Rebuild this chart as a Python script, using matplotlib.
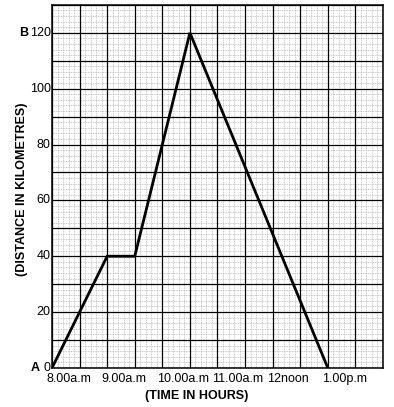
import matplotlib
matplotlib.use("Agg")
import matplotlib.pyplot as plt
import numpy as np
from matplotlib.transforms import offset_copy

plt.rcParams["font.family"] = ["Liberation Sans", "DejaVu Sans"]

# journey data: time in hours (24h clock) vs distance from A in km
time_hours = [8.0, 9.0, 9.5, 10.5, 13.0]
distance_km = [0, 40, 40, 120, 0]

x_tick_pos = [8, 9, 10, 11, 12, 13]
x_tick_labels = ["8.00a.m", "9.00a.m", "10.00a.m", "11.00a.m", "12noon", "1.00p.m"]
y_tick_pos = [0, 20, 40, 60, 80, 100, 120]
y_tick_labels = ["0", "20", "40", "60", "80", "100", "120"]

fig = plt.figure(figsize=(3.94, 4.07), dpi=100)
ax = fig.add_axes([0.132, 0.096, 0.84, 0.892])

ax.set_xlim(8, 14)
ax.set_ylim(0, 130)

# graph paper: fine grid then heavy grid
for xv in np.arange(8, 14.001, 0.1):
    ax.axvline(xv, color="#a8a8a8", lw=0.45, ls=(0, (1.5, 1.2)), zorder=1)
for yv in np.arange(0, 130.001, 2):
    ax.axhline(yv, color="#a8a8a8", lw=0.45, ls=(0, (1.5, 1.2)), zorder=1)
for xv in np.arange(8, 14.001, 0.5):
    ax.axvline(xv, color="black", lw=0.9, zorder=2)
for yv in np.arange(0, 130.001, 10):
    ax.axhline(yv, color="black", lw=0.9, zorder=2)

ax.plot(time_hours, distance_km, color="black", lw=2.0, zorder=3,
        solid_joinstyle="miter")

for s in ax.spines.values():
    s.set_linewidth(1.1)

ax.set_xticks([])
ax.set_yticks([])

# x labels start roughly at the tick, as on the paper
tr = offset_copy(ax.transData, fig=fig, x=-4, y=-4, units="points")
for xp, lab in zip(x_tick_pos, x_tick_labels):
    ax.text(xp, 0, lab, transform=tr, ha="left", va="top", fontsize=9,
            clip_on=False)

tr_y = offset_copy(ax.transData, fig=fig, x=-1, y=0, units="points")
for yp, lab in zip(y_tick_pos, y_tick_labels):
    ax.text(8, yp, lab, transform=tr_y, ha="right", va="center", fontsize=9,
            clip_on=False)

ax.text(8, 0, "A", transform=offset_copy(ax.transData, fig=fig, x=-9, y=0, units="points"),
        ha="right", va="center", fontsize=9, fontweight="bold", clip_on=False)
ax.text(8, 120, "B", transform=offset_copy(ax.transData, fig=fig, x=-17, y=0, units="points"),
        ha="right", va="center", fontsize=9, fontweight="bold", clip_on=False)

fig.text(0.057, 0.535, "(DISTANCE IN KILOMETRES)", rotation=90, ha="center",
         va="center", fontsize=9, fontweight="bold")
fig.text(0.50, 0.027, "(TIME IN HOURS)", ha="center", va="center",
         fontsize=9, fontweight="bold")

fig.savefig("out.png", dpi=100)
